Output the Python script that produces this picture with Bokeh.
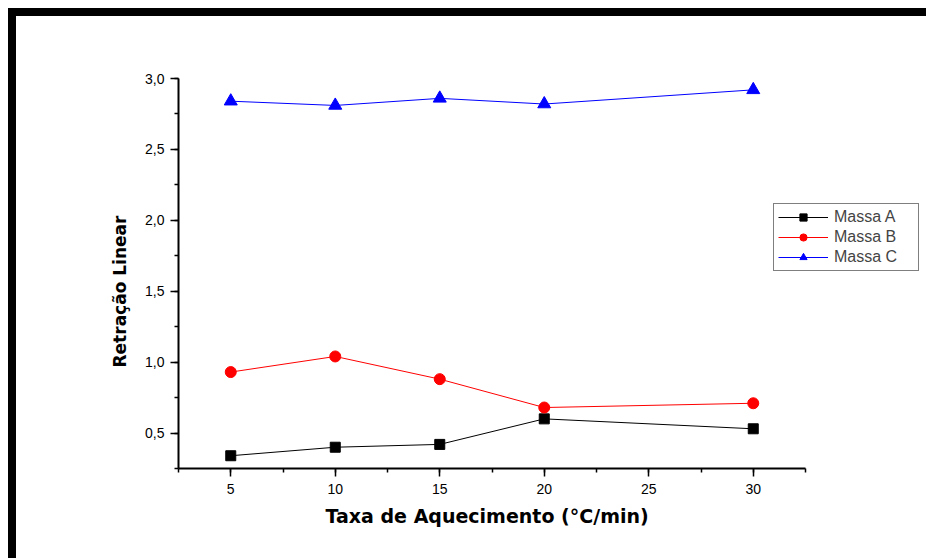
from bokeh.plotting import figure
from bokeh.models import (Range1d, CustomJSTickFormatter, SingleIntervalTicker, Legend,
                          LegendItem, Title)
from bokeh.embed import file_html
from bokeh.resources import INLINE

taxa = [5, 10, 15, 20, 30]
massa_a = [0.34, 0.40, 0.42, 0.60, 0.53]
massa_b = [0.93, 1.04, 0.88, 0.68, 0.71]
massa_c = [2.84, 2.81, 2.86, 2.82, 2.92]
series_names = ["Massa A", "Massa B", "Massa C"]

# frame spans 748 px; axis 2.5..32.5 spans 627 px
px_per_unit = 627 / 30
x_end = 2.5 + 748 / px_per_unit

p = figure(width=910, height=542, output_backend="svg", toolbar_location=None,
           x_range=Range1d(2.5, x_end), y_range=Range1d(0.25, 3.0),
           min_border_left=162, min_border_right=0, min_border_top=62, min_border_bottom=90)
p.styles = {"margin-left": "16px", "margin-top": "16px",
            "box-shadow": "-4px -4px 0px 4px black"}
p.outline_line_color = None
p.xgrid.grid_line_color = None
p.ygrid.grid_line_color = None
p.background_fill_color = "white"
p.border_fill_color = "white"

FONT = "Liberation Sans"
p.xaxis.ticker = SingleIntervalTicker(interval=5, num_minor_ticks=2)
p.yaxis.ticker = SingleIntervalTicker(interval=0.5, num_minor_ticks=2)
p.xaxis.formatter = CustomJSTickFormatter(code="return tick.toFixed(0);")
p.yaxis.formatter = CustomJSTickFormatter(code="return tick.toFixed(1).replace('.', ',');")
p.xaxis.bounds = (2.5, 32.5)
p.yaxis.bounds = (0.25, 3.0)

for ax in (p.xaxis[0], p.yaxis[0]):
    ax.axis_line_width = 2
    ax.axis_line_color = "black"
    ax.major_tick_line_color = "black"
    ax.minor_tick_line_color = "black"
    ax.major_tick_line_width = 1.5
    ax.minor_tick_line_width = 1.5
    ax.major_tick_out = 8
    ax.major_tick_in = 0
    ax.minor_tick_out = 4
    ax.minor_tick_in = 0
    ax.major_label_text_font = FONT
    ax.major_label_text_font_size = "14px"
    ax.major_label_text_color = "black"

p.xaxis.major_label_standoff = 7
p.yaxis.major_label_standoff = 6

xlabel = Title(text="Taxa de Aquecimento (°C/min)", align="left", offset=147,
               text_font="DejaVu Sans", text_font_style="bold", text_font_size="19px",
               text_color="black", standoff=12)
p.add_layout(xlabel, "below")

ylabel = Title(text="Retração Linear", align="left", offset=101,
               text_font="DejaVu Sans", text_font_style="bold", text_font_size="17px",
               text_color="black", standoff=26)
p.add_layout(ylabel, "left")

la = p.line(taxa, massa_a, line_color="black", line_width=1)
sa = p.scatter(taxa, massa_a, marker="square", size=10, fill_color="black", line_color="black")
lb = p.line(taxa, massa_b, line_color="red", line_width=1)
sb = p.scatter(taxa, massa_b, marker="circle", size=11, fill_color="red", line_color="red")
lc = p.line(taxa, massa_c, line_color="blue", line_width=1)
sc = p.scatter(taxa, massa_c, marker="triangle", size=13, fill_color="blue", line_color="blue")

legend = Legend(items=[LegendItem(label=series_names[0], renderers=[la, sa]),
                       LegendItem(label=series_names[1], renderers=[lb, sb]),
                       LegendItem(label=series_names[2], renderers=[lc, sc])],
                location=(595, 197), border_line_color="black", border_line_width=1,
                label_text_font=FONT, label_text_font_size="16px",
                glyph_width=50, glyph_height=18, label_height=18, label_width=80,
                spacing=2, padding=4, margin=0, label_standoff=6, background_fill_alpha=1)
p.add_layout(legend, "center")

open("out.html", "w").write(file_html(p, INLINE))
